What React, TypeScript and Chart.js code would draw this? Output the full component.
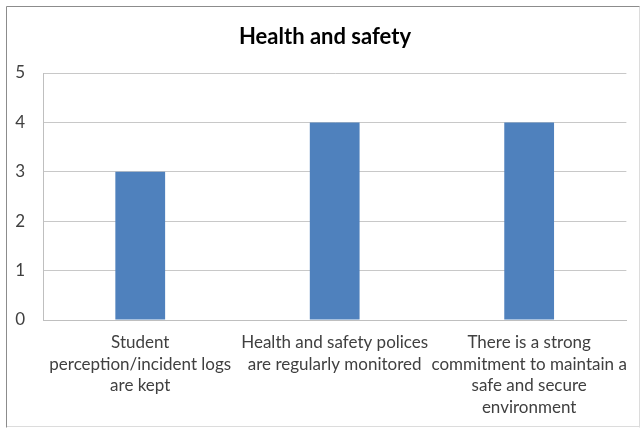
import React, { useEffect, useRef } from "react";
import { Chart, registerables } from "chart.js";

Chart.register(...registerables);

const categories: string[][] = [
  ["Student", "perception/incident logs", "are kept"],
  ["Health and safety polices", "are regularly monitored"],
  ["There is a strong", "commitment to maintain a", "safe and secure", "environment"],
];
const values: number[] = [3, 4, 4];
const yTicks: number[] = [0, 1, 2, 3, 4, 5];
const titleText = "Health and safety";

const FONT = "Lato, 'Open Sans', sans-serif";

const framePlugin = {
  id: "frameAndTitle",
  beforeDraw(chart: any) {
    const ctx = chart.ctx;
    ctx.save();
    ctx.fillStyle = "#ffffff";
    ctx.fillRect(0, 0, chart.width, chart.height);
    ctx.lineWidth = 1;
    ctx.strokeStyle = "#dcdcdc";
    ctx.beginPath();
    ctx.moveTo(639.5, 6.5);
    ctx.lineTo(639.5, 427.5);
    ctx.moveTo(6.5, 426.5);
    ctx.lineTo(639.5, 426.5);
    ctx.stroke();
    ctx.strokeStyle = "#8c8c8c";
    ctx.beginPath();
    ctx.moveTo(6.5, 427.5);
    ctx.lineTo(6.5, 6.5);
    ctx.lineTo(639.5, 6.5);
    ctx.stroke();
    ctx.restore();
  },
  afterDraw(chart: any) {
    const ctx = chart.ctx;
    ctx.save();
    ctx.fillStyle = "#000000";
    ctx.font = `bold 22px ${FONT}`;
    ctx.textAlign = "center";
    ctx.textBaseline = "middle";
    ctx.fillText(titleText, 325, 37);
    ctx.restore();
  },
};

export default function App() {
  const ref = useRef<HTMLCanvasElement | null>(null);
  useEffect(() => {
    if (!ref.current) return;
    const chart = new Chart(ref.current, {
      type: "bar",
      data: {
        labels: categories,
        datasets: [
          {
            data: values,
            backgroundColor: "#4F81BD",
            borderWidth: 0,
            categoryPercentage: 1,
            barPercentage: 0.256,
          },
        ],
      },
      options: {
        animation: false,
        responsive: true,
        maintainAspectRatio: false,
        layout: { padding: { left: 6, right: 13, top: 73, bottom: 0 } },
        plugins: {
          legend: { display: false },
          tooltip: { enabled: false },
          title: { display: false },
        },
        scales: {
          x: {
            grid: { display: false, drawTicks: false },
            border: { display: true, color: "#bfbfbf" },
            ticks: {
              color: "#404040",
              font: { family: FONT, size: 17, lineHeight: 1.27 },
              padding: 12,
              maxRotation: 0,
              autoSkip: false,
            },
            afterFit(scale: any) {
              scale.height = 108;
            },
          },
          y: {
            min: 0,
            max: 5,
            afterBuildTicks(scale: any) {
              scale.ticks = yTicks.map((v) => ({ value: v }));
            },
            grid: { color: "#c8c8c8", drawTicks: false },
            border: { display: true, color: "#bfbfbf" },
            ticks: {
              color: "#404040",
              font: { family: FONT, size: 17 },
              padding: 18,
            },
            afterFit(scale: any) {
              scale.width = 37;
            },
          },
        },
      },
      plugins: [framePlugin],
    });
    return () => chart.destroy();
  }, []);
  return (
    <div style={{ position: "fixed", left: 0, top: 0, width: 641, height: 428 }}>
      <canvas ref={ref} />
    </div>
  );
}
